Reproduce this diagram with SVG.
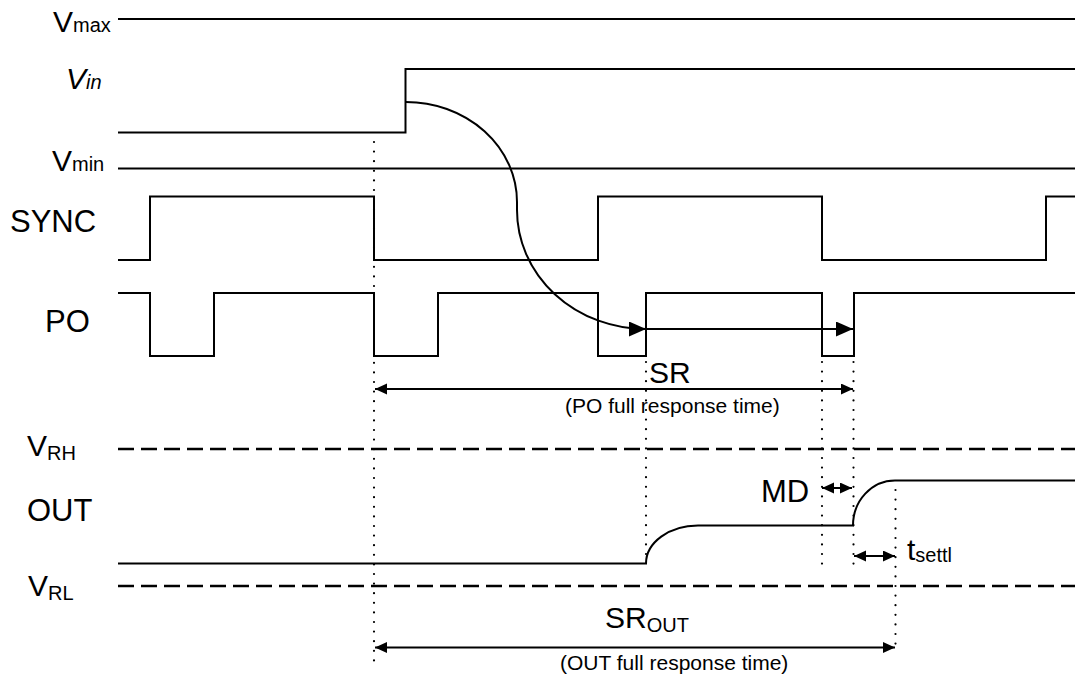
<svg xmlns="http://www.w3.org/2000/svg" width="1075" height="681" viewBox="0 0 1075 681">
<style>
  text { font-family: "Liberation Sans", Arial, sans-serif; fill: #000; }
  .lbl { font-size: 30px; }
  .big { font-size: 31px; }
  .sub { font-size: 20px; }
  .note { font-size: 21px; }
  .wave { fill: none; stroke: #000; stroke-width: 2; stroke-linejoin: miter; }
  .ref { fill: none; stroke: #000; stroke-width: 1.8; }
  .dash { fill: none; stroke: #000; stroke-width: 2.5; stroke-dasharray: 16 7; }
  .dot { fill: none; stroke: #000; stroke-width: 2.2; stroke-linecap: round; stroke-dasharray: 0 9.6; }
  .arr { fill: none; stroke: #000; stroke-width: 2; }
</style>
<defs>
  <marker id="bigHead" markerUnits="userSpaceOnUse" markerWidth="18" markerHeight="16" refX="17" refY="7.5" orient="auto">
    <path d="M0,0 L17,7.5 L0,15 z" fill="#000"/>
  </marker>
  <marker id="smallHead" markerUnits="userSpaceOnUse" markerWidth="13" markerHeight="12" refX="12" refY="5.5" orient="auto-start-reverse">
    <path d="M0,0 L12,5.5 L0,11 z" fill="#000"/>
  </marker>
</defs>
<rect width="1075" height="681" fill="#fff"/>

<g id="vmax">
  <text class="lbl" x="53" y="32">V<tspan class="sub">max</tspan></text>
  <line class="ref" x1="118" y1="19" x2="1075" y2="19"/>
</g>

<g id="vin">
  <text class="lbl" x="66" y="89" font-style="italic">V<tspan class="sub">in</tspan></text>
  <path class="wave" d="M118,132.5 H405.5 V69 H1075"/>
</g>

<g id="vmin">
  <text class="lbl" x="52" y="171">V<tspan class="sub">min</tspan></text>
  <line class="ref" x1="118" y1="168.5" x2="1075" y2="168.5"/>
</g>

<g id="sync">
  <text class="big" x="10" y="232">SYNC</text>
  <path class="wave" d="M118,260 H150 V196.5 H374 V260 H598 V196.5 H822 V260 H1046 V196.5 H1075"/>
</g>

<g id="po">
  <text class="big" x="45" y="332">PO</text>
  <path class="wave" d="M118,293 H150 V356 H214 V293 H374 V356 H438 V293 H598 V356 H646 V293 H822 V356 H854 V293 H1075"/>
</g>

<g id="vrh">
  <text class="lbl" x="27" y="456">V<tspan class="sub" dy="4">RH</tspan></text>
  <line class="dash" x1="118" y1="449" x2="1075" y2="449"/>
</g>

<g id="out">
  <text class="big" x="27" y="521">OUT</text>
  <path class="wave" d="M118,563.5 H646 A52,38 0 0 1 698,525.5 H853 A42,45 0 0 1 895,480.5 H1075"/>
</g>

<g id="vrl">
  <text class="lbl" x="28" y="596">V<tspan class="sub" dy="4">RL</tspan></text>
  <line class="dash" x1="118" y1="586" x2="1075" y2="586"/>
</g>

<g id="guides">
  <line class="dot" x1="374" y1="142" x2="374" y2="661"/>
  <line class="dot" x1="646" y1="362" x2="646" y2="562"/>
  <line class="dot" x1="822" y1="362" x2="822" y2="567"/>
  <line class="dot" x1="853.5" y1="362" x2="853.5" y2="567"/>
  <line class="dot" x1="895.5" y1="490" x2="895.5" y2="653"/>
</g>

<g id="connectors">
  <path class="arr" d="M406,102 A111,100 0 0 1 517,202 L517,210 A129,119 0 0 0 646,329" marker-end="url(#bigHead)"/>
  <line class="arr" x1="646" y1="329" x2="853" y2="329" marker-end="url(#bigHead)"/>
  <line class="arr" x1="375" y1="389" x2="853" y2="389" marker-start="url(#smallHead)" marker-end="url(#smallHead)"/>
  <line class="arr" x1="822" y1="488" x2="852" y2="488" marker-start="url(#smallHead)" marker-end="url(#smallHead)"/>
  <line class="arr" x1="854" y1="556" x2="895" y2="556" marker-start="url(#smallHead)" marker-end="url(#smallHead)"/>
  <line class="arr" x1="375" y1="647.5" x2="895" y2="647.5" marker-start="url(#smallHead)" marker-end="url(#smallHead)"/>
</g>

<g id="annotations">
  <text class="lbl" x="649" y="383">SR</text>
  <text class="note" x="565" y="413">(PO full response time)</text>
  <text class="big" x="761" y="502">MD</text>
  <text class="lbl" x="907" y="560">t<tspan class="sub" dy="2">settl</tspan></text>
  <text class="lbl" x="605" y="628">SR<tspan class="sub" dy="4">OUT</tspan></text>
  <text class="note" x="560" y="670">(OUT full response time)</text>
</g>
</svg>
